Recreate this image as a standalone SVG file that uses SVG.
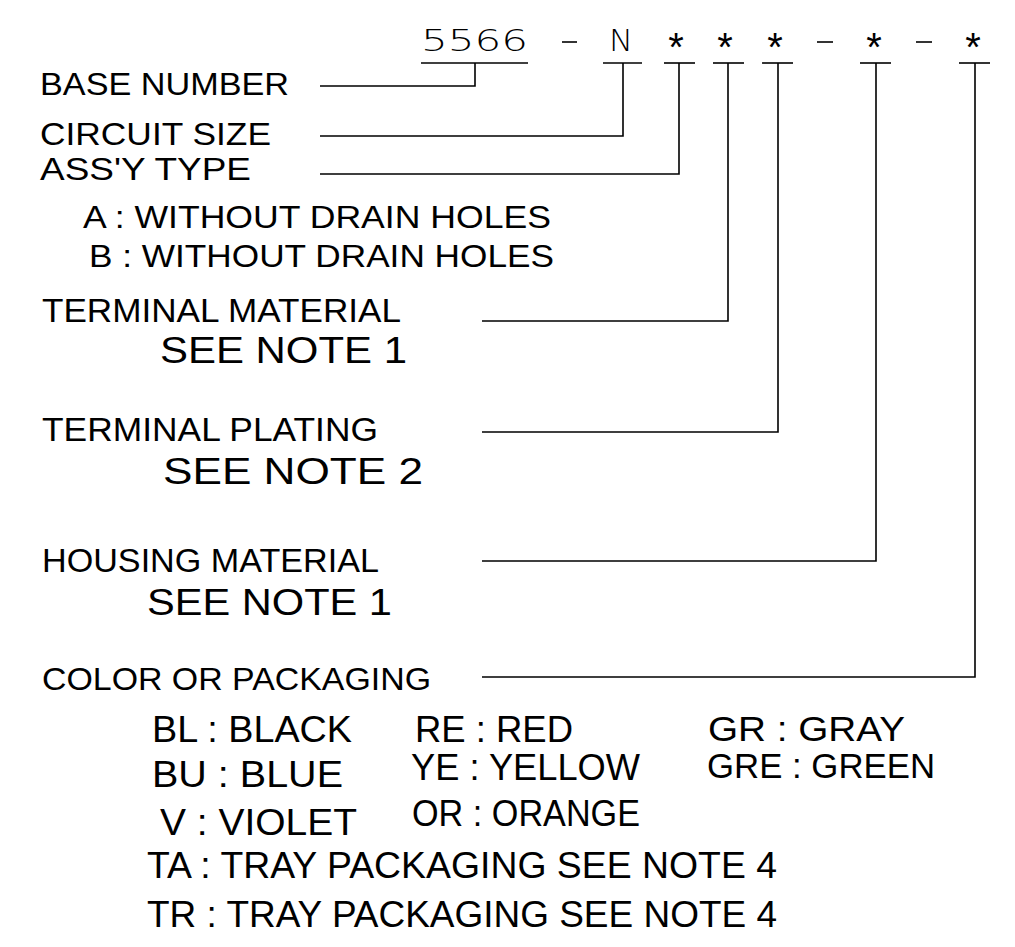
<svg xmlns="http://www.w3.org/2000/svg" width="1015" height="947" viewBox="0 0 1015 947">
<style>
  .lbl{font-family:"Liberation Sans",Arial,sans-serif;fill:#000;}
  .hd{font-family:"DejaVu Sans","Liberation Sans",sans-serif;font-weight:200;fill:#000;font-size:30px;}
  .ast{font-family:"Liberation Sans",Arial,sans-serif;fill:#000;font-size:40px;text-anchor:middle;}
  .cn{fill:none;stroke:#000;stroke-width:1.6;}
  .ul{stroke:#000;stroke-width:1.6;}
</style>
<rect width="1015" height="947" fill="#fff"/>
<g id="header">
  <text class="hd" x="421" y="51" textLength="107" lengthAdjust="spacingAndGlyphs">5566</text>
  <line class="ul" x1="562" y1="42" x2="577" y2="42" stroke-width="1.2"/>
  <text class="hd" x="609" y="51" textLength="24" lengthAdjust="spacingAndGlyphs">N</text>
  <text class="ast" x="676" y="61">*</text>
  <text class="ast" x="725" y="61">*</text>
  <text class="ast" x="775" y="61">*</text>
  <line class="ul" x1="817" y1="42" x2="833" y2="42" stroke-width="1.2"/>
  <text class="ast" x="874" y="61">*</text>
  <line class="ul" x1="916" y1="42" x2="932" y2="42" stroke-width="1.2"/>
  <text class="ast" x="973" y="61">*</text>
  <line class="ul" x1="421" y1="63" x2="528" y2="63"/>
  <line class="ul" x1="603" y1="63" x2="642" y2="63"/>
  <line class="ul" x1="664" y1="63" x2="695" y2="63"/>
  <line class="ul" x1="713" y1="63" x2="744" y2="63"/>
  <line class="ul" x1="762" y1="63" x2="793" y2="63"/>
  <line class="ul" x1="860" y1="63" x2="891" y2="63"/>
  <line class="ul" x1="959" y1="63" x2="990" y2="63"/>
</g>
<g id="connectors">
  <polyline class="cn" points="320,86 475,86 475,63"/>
  <polyline class="cn" points="320,136 623,136 623,63"/>
  <polyline class="cn" points="320,174 679,174 679,63"/>
  <polyline class="cn" points="482,321 728,321 728,63"/>
  <polyline class="cn" points="482,432 778,432 778,63"/>
  <polyline class="cn" points="482,561 876,561 876,63"/>
  <polyline class="cn" points="482,677 975,677 975,63"/>
</g>
<g id="base-number">
  <text class="lbl" x="40" y="95" font-size="31" textLength="249" lengthAdjust="spacingAndGlyphs">BASE NUMBER</text>
</g>
<g id="circuit-size">
  <text class="lbl" x="40" y="145" font-size="31" textLength="231" lengthAdjust="spacingAndGlyphs">CIRCUIT SIZE</text>
</g>
<g id="assy-type">
  <text class="lbl" x="40" y="180" font-size="31" textLength="211" lengthAdjust="spacingAndGlyphs">ASS'Y TYPE</text>
  <text class="lbl" x="83" y="228" font-size="31" textLength="468" lengthAdjust="spacingAndGlyphs">A : WITHOUT DRAIN HOLES</text>
  <text class="lbl" x="89" y="267" font-size="31" textLength="465" lengthAdjust="spacingAndGlyphs">B : WITHOUT DRAIN HOLES</text>
</g>
<g id="terminal-material">
  <text class="lbl" x="42" y="322" font-size="33" textLength="359" lengthAdjust="spacingAndGlyphs">TERMINAL MATERIAL</text>
  <text class="lbl" x="160" y="363" font-size="37" textLength="247" lengthAdjust="spacingAndGlyphs">SEE NOTE 1</text>
</g>
<g id="terminal-plating">
  <text class="lbl" x="42" y="441" font-size="33" textLength="336" lengthAdjust="spacingAndGlyphs">TERMINAL PLATING</text>
  <text class="lbl" x="163" y="484" font-size="37" textLength="260" lengthAdjust="spacingAndGlyphs">SEE NOTE 2</text>
</g>
<g id="housing-material">
  <text class="lbl" x="42" y="572" font-size="33" textLength="337" lengthAdjust="spacingAndGlyphs">HOUSING MATERIAL</text>
  <text class="lbl" x="147" y="615" font-size="37" textLength="245" lengthAdjust="spacingAndGlyphs">SEE NOTE 1</text>
</g>
<g id="color-packaging">
  <text class="lbl" x="42" y="690" font-size="31" textLength="389" lengthAdjust="spacingAndGlyphs">COLOR OR PACKAGING</text>
  <text class="lbl" x="152" y="742" font-size="37" textLength="200" lengthAdjust="spacingAndGlyphs">BL : BLACK</text>
  <text class="lbl" x="415" y="742" font-size="37" textLength="158" lengthAdjust="spacingAndGlyphs">RE : RED</text>
  <text class="lbl" x="708" y="741" font-size="35" textLength="197" lengthAdjust="spacingAndGlyphs">GR  : GRAY</text>
  <text class="lbl" x="152" y="787" font-size="37" textLength="191" lengthAdjust="spacingAndGlyphs">BU : BLUE</text>
  <text class="lbl" x="411" y="780" font-size="37" textLength="229" lengthAdjust="spacingAndGlyphs">YE : YELLOW</text>
  <text class="lbl" x="707" y="778" font-size="35" textLength="228" lengthAdjust="spacingAndGlyphs">GRE : GREEN</text>
  <text class="lbl" x="160" y="835" font-size="37" textLength="197" lengthAdjust="spacingAndGlyphs">V : VIOLET</text>
  <text class="lbl" x="412" y="826" font-size="37" textLength="228" lengthAdjust="spacingAndGlyphs">OR : ORANGE</text>
  <text class="lbl" x="147" y="878" font-size="37" textLength="630" lengthAdjust="spacingAndGlyphs">TA : TRAY PACKAGING SEE NOTE 4</text>
  <text class="lbl" x="147" y="927" font-size="37" textLength="630" lengthAdjust="spacingAndGlyphs">TR : TRAY PACKAGING SEE NOTE 4</text>
</g>
</svg>
